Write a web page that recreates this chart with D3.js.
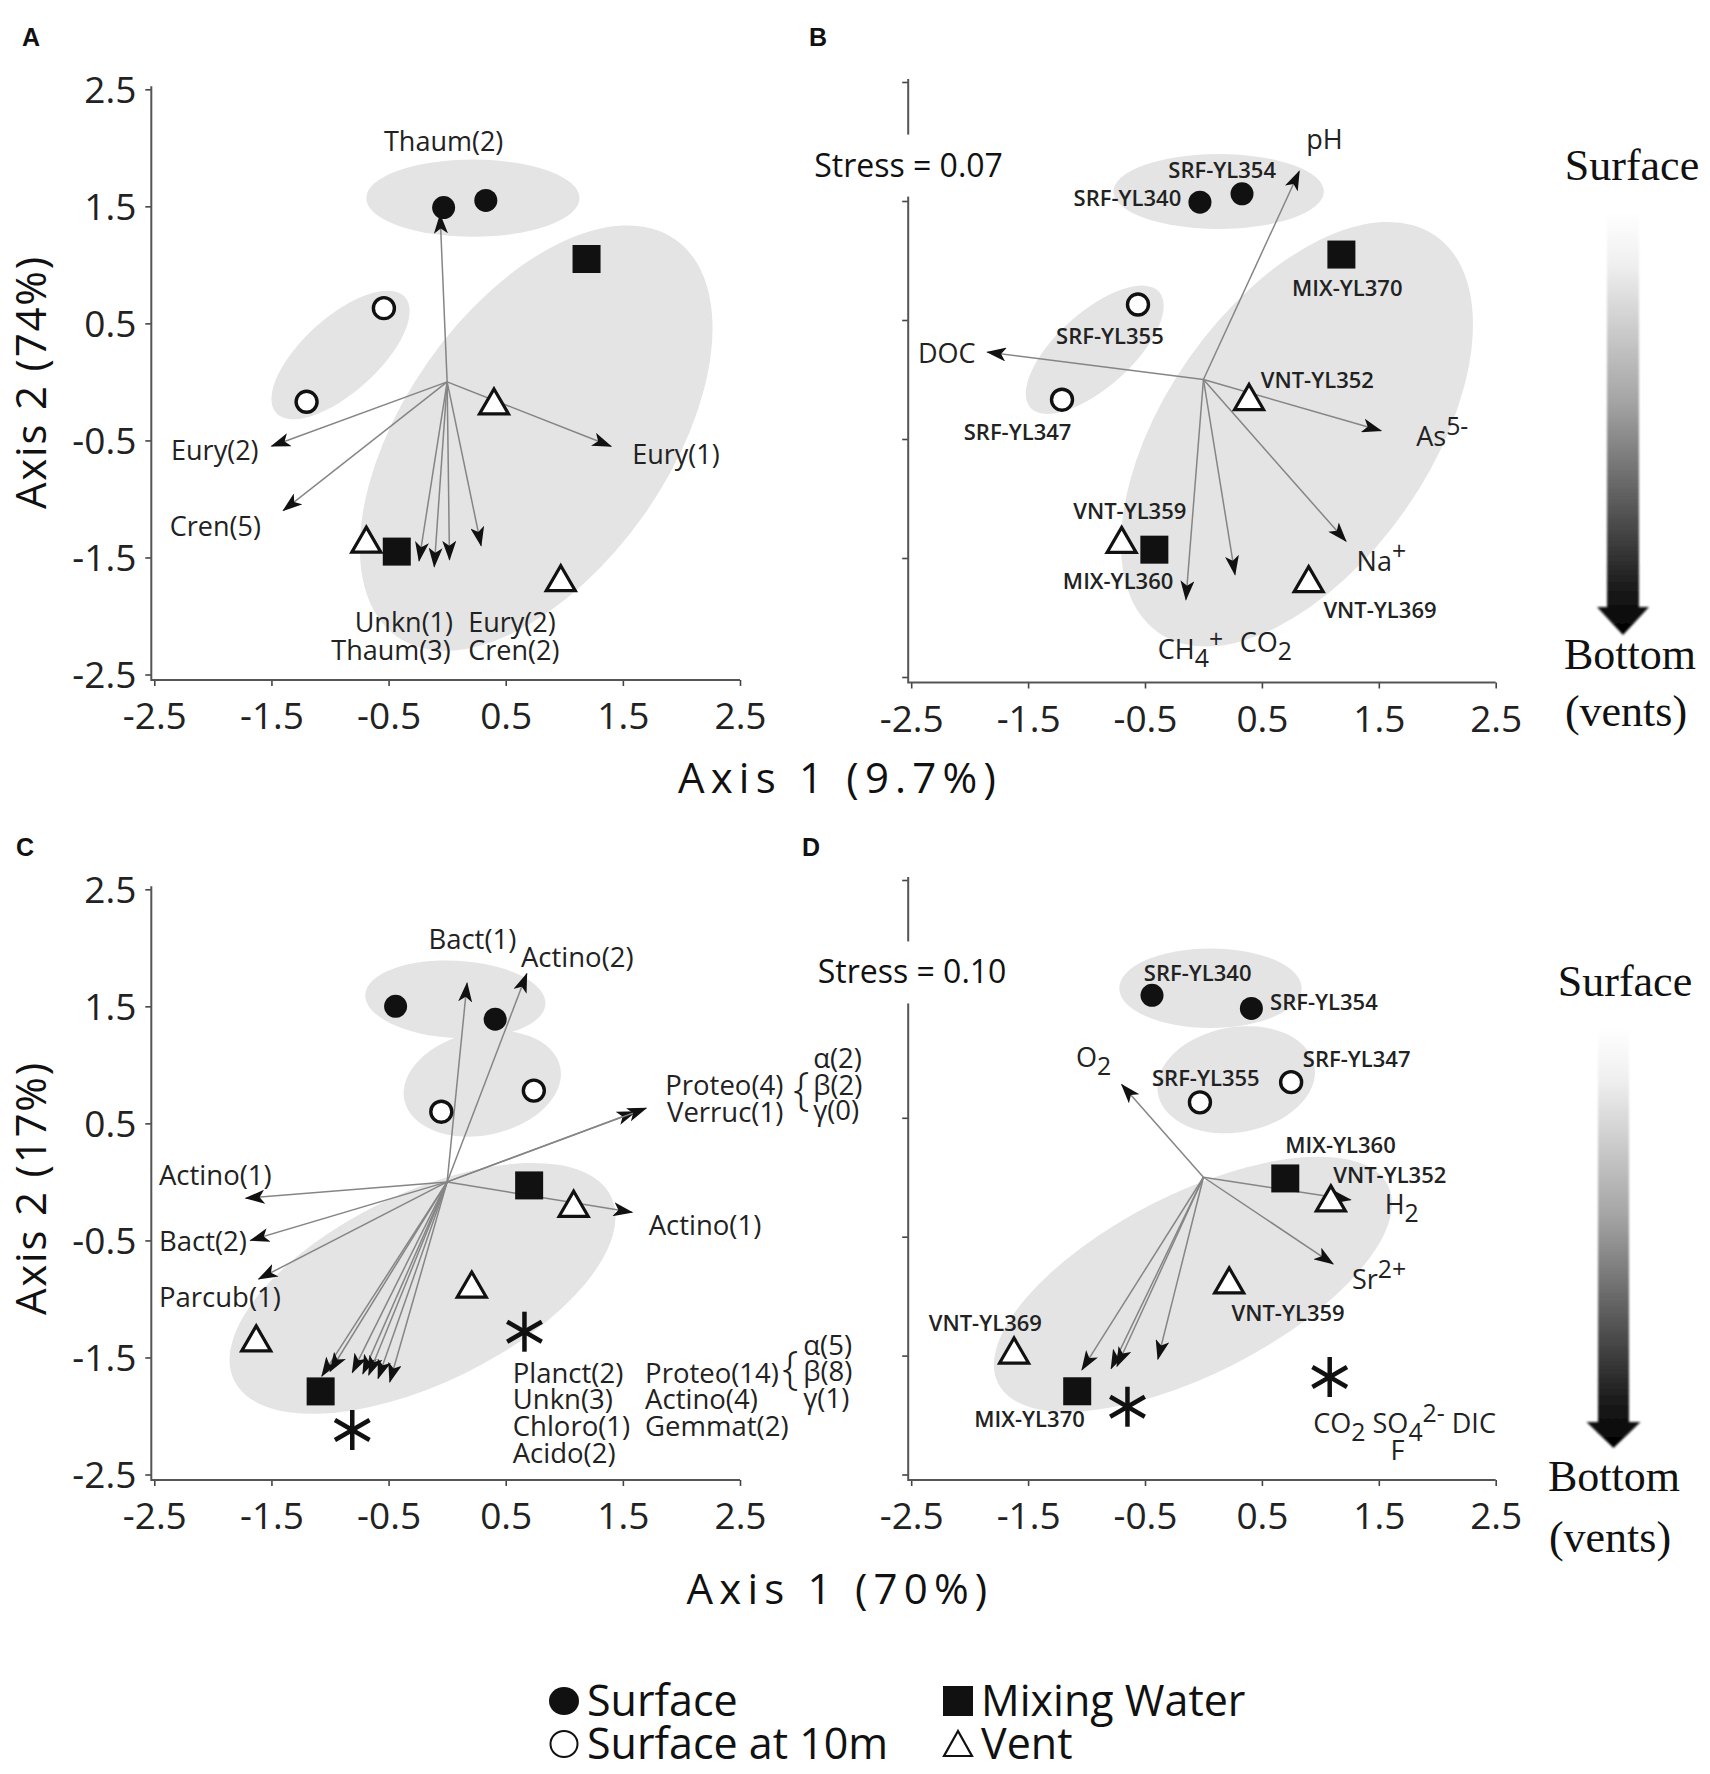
<!DOCTYPE html>
<html>
<head>
<meta charset="utf-8">
<script src="https://cdn.jsdelivr.net/npm/d3@7"></script>
<style>
  body { margin: 0; background: #fff; }
  text { font-family: "Open Sans", "Noto Sans", sans-serif; }
</style>
</head>
<body>
<svg id="fig"></svg>
<script>
// ---- data (NMDS axis units) ----
const ticks = [-2.5, -1.5, -0.5, 0.5, 1.5, 2.5];

// site scores: [kind, axis1, axis2]
const sitesA = [
  ["surface", -0.03, 1.49], ["surface", 0.33, 1.55], ["mix", 1.19, 1.05],
  ["surface10", -0.54, 0.63], ["surface10", -1.20, -0.17], ["vent", 0.40, -0.18],
  ["vent", -0.69, -1.36], ["mix", -0.43, -1.45], ["vent", 0.97, -1.69]
];
const sitesB = [
  ["surface", -0.03, 1.49], ["surface", 0.33, 1.56], ["mix", 1.18, 1.05],
  ["surface10", -0.56, 0.63], ["surface10", -1.21, -0.17], ["vent", 0.39, -0.16],
  ["vent", -0.70, -1.36], ["mix", -0.42, -1.43], ["vent", 0.90, -1.69]
];
const sitesC = [
  ["surface", -0.44, 1.50], ["surface", 0.41, 1.39], ["surface10", -0.05, 0.60],
  ["surface10", 0.74, 0.78], ["mix", 0.70, -0.03], ["vent", 1.08, -0.20],
  ["vent", 0.21, -0.89], ["vent", -1.63, -1.35], ["mix", -1.08, -1.79],
  ["star", 0.66, -1.28], ["star", -0.81, -2.12]
];
const sitesD = [
  ["surface", -0.44, 1.53], ["surface", 0.41, 1.42], ["surface10", -0.03, 0.63],
  ["surface10", 0.75, 0.80], ["mix", 0.70, -0.01], ["vent", 1.09, -0.19],
  ["vent", 0.22, -0.88], ["vent", -1.62, -1.47], ["mix", -1.08, -1.80],
  ["star", -0.65, -1.93], ["star", 1.08, -1.68]
];

// fitted vectors (arrow tips)
const vecA = [[-0.06, 1.43], [-1.50, -0.55], [-1.40, -1.10], [1.40, -0.55],
  [-0.24, -1.53], [-0.11, -1.58], [0.02, -1.52], [0.29, -1.40]];
const vecB = [[0.82, 1.75], [-1.85, 0.23], [1.52, -0.43], [1.22, -1.36],
  [-0.15, -1.85], [0.27, -1.64]];
const vecC = [[0.17, 1.70], [0.68, 1.78], [1.61, 0.60], [1.70, 0.63],
  [-1.72, -0.14], [-1.68, -0.50], [-1.61, -0.83], [1.58, -0.26],
  [-1.07, -1.66], [-1.00, -1.62], [-0.81, -1.63], [-0.72, -1.64],
  [-0.67, -1.65], [-0.59, -1.68], [-0.49, -1.71]];
const vecD = [[-0.70, 0.78], [1.26, -0.19], [1.11, -0.73],
  [-1.04, -1.62], [-0.79, -1.61], [-0.74, -1.59], [-0.39, -1.53]];

// group hulls: [cx, cy, semi-axis a, semi-axis b, tilt deg]
const hullA = [[0.22, 1.57, 0.91, 0.33, 0], [-0.91, 0.23, 0.74, 0.32, 42], [0.76, -0.48, 2.07, 1.13, 55]];
const hullB = [[0.13, 1.58, 0.90, 0.32, 0], [-0.93, 0.25, 0.74, 0.32, 42], [0.80, -0.46, 2.07, 1.13, 55]];
const hullC = [[0.07, 1.56, 0.77, 0.33, -3], [0.30, 0.84, 0.68, 0.44, 12], [-0.21, -0.91, 1.79, 0.81, 26]];
const hullD = [[0.06, 1.59, 0.78, 0.34, 0], [0.28, 0.82, 0.68, 0.45, 10], [-0.09, -0.90, 1.87, 0.77, 27]];

// labels: [text, axis1, axis2, anchor]; _{..} subscript, ^{..} superscript
const labA = [
  ["Thaum(2)", -0.03, 1.97, "middle"], ["Eury(2)", -1.61, -0.67, "end"],
  ["Cren(5)", -1.59, -1.32, "end"], ["Eury(1)", 1.58, -0.70, "start"],
  ["Unkn(1)", 0.05, -2.14, "end"], ["Thaum(3)", 0.03, -2.38, "end"],
  ["Eury(2)", 0.18, -2.14, "start"], ["Cren(2)", 0.18, -2.38, "start"]
];
const siteLabB = [
  ["SRF-YL354", 0.16, 1.69, "middle"], ["SRF-YL340", -0.19, 1.46, "end"],
  ["MIX-YL370", 1.23, 0.70, "middle"], ["SRF-YL355", -0.80, 0.30, "middle"],
  ["VNT-YL352", 0.49, -0.07, "start"], ["SRF-YL347", -1.59, -0.51, "middle"],
  ["VNT-YL359", -0.63, -1.17, "middle"], ["MIX-YL360", -0.73, -1.76, "middle"],
  ["VNT-YL369", 1.51, -2.00, "middle"]
];
const envLabB = [
  ["pH", 0.88, 1.94, "start"], ["DOC", -1.95, 0.14, "end"],
  ["As^{5-}", 1.82, -0.56, "start"], ["Na^{+}", 1.31, -1.61, "start"],
  ["CH_{4}^{+}", -0.39, -2.35, "start"], ["CO_{2}", 0.31, -2.29, "start"]
];
const labC = [
  ["Bact(1)", -0.16, 1.99, "start"], ["Actino(2)", 0.63, 1.84, "start"],
  ["Proteo(4)", 2.87, 0.744, "end"], ["Verruc(1)", 2.87, 0.513, "end"],
  ["α(2)", 3.125, 0.974, "start"], ["β(2)", 3.125, 0.744, "start"], ["γ(0)", 3.125, 0.53, "start"],
  ["Actino(1)", -2.46, -0.03, "start"], ["Bact(2)", -2.46, -0.59, "start"],
  ["Parcub(1)", -2.46, -1.07, "start"], ["Actino(1)", 1.72, -0.45, "start"],
  ["Planct(2)", 0.56, -1.72, "start"], ["Unkn(3)", 0.56, -1.94, "start"],
  ["Chloro(1)", 0.56, -2.17, "start"], ["Acido(2)", 0.56, -2.40, "start"],
  ["Proteo(14)", 1.69, -1.72, "start"], ["Actino(4)", 1.69, -1.94, "start"],
  ["Gemmat(2)", 1.69, -2.17, "start"],
  ["α(5)", 3.04, -1.48, "start"], ["β(8)", 3.04, -1.70, "start"], ["γ(1)", 3.04, -1.93, "start"]
];
const braceC = [[2.955, 0.66], [2.86, -1.73]];
const siteLabD = [
  ["SRF-YL340", -0.51, 1.65, "start"], ["SRF-YL354", 0.57, 1.41, "start"],
  ["SRF-YL355", -0.44, 0.77, "start"], ["SRF-YL347", 0.85, 0.93, "start"],
  ["MIX-YL360", 0.70, 0.20, "start"], ["VNT-YL352", 1.11, -0.05, "start"],
  ["VNT-YL359", 0.24, -1.21, "start"], ["VNT-YL369", -2.35, -1.29, "start"],
  ["MIX-YL370", -1.96, -2.10, "start"]
];
const envLabD = [
  ["O_{2}", -1.09, 0.93, "start"], ["H_{2}", 1.55, -0.31, "start"],
  ["Sr^{2+}", 1.27, -0.94, "start"], ["CO_{2} SO_{4}^{2-} DIC", 0.94, -2.15, "start"],
  ["F", 1.66, -2.38, "middle"]
];
const stressB = ["Stress = 0.07", -3.33, 1.705];
const stressD = ["Stress = 0.10", -3.30, 1.63];

const legendItems = [
  ["surface", "Surface"], ["mix", "Mixing Water"],
  ["surface10", "Surface at 10m"], ["vent", "Vent"]
];

// ---- drawing ----
const W = 1710, H = 1774;
const svg = d3.select("#fig").attr("width", W).attr("height", H);
const defs = svg.append("defs");

defs.append("marker")
    .attr("id", "head")
    .attr("viewBox", "0 0 20 14")
    .attr("refX", 19).attr("refY", 7)
    .attr("markerWidth", 20).attr("markerHeight", 14)
    .attr("markerUnits", "userSpaceOnUse")
    .attr("orient", "auto")
  .append("path")
    .attr("d", "M0,0 L20,7 L0,14 L5,7 Z")
    .attr("fill", "#111");

const grad = defs.append("linearGradient")
    .attr("id", "depth").attr("x1", 0).attr("y1", 0).attr("x2", 0).attr("y2", 1);
[[0, "#ffffff"], [0.12, "#f0f0f0"], [0.45, "#a4a4a4"], [0.7, "#575757"], [0.88, "#1e1e1e"], [1, "#000"]]
  .forEach(([o, c]) => grad.append("stop").attr("offset", o).attr("stop-color", c));
defs.append("filter").attr("id", "soft")
  .append("feGaussianBlur").attr("stdDeviation", 1.2);

// panel frames (pixel ranges of the -2.5..2.5 domain)
const layout = {
  A: {x: [154.3, 740], y: [674.5, 89.3], letter: [22, 46], yLabels: true},
  B: {x: [911.2, 1495.7], y: [677, 82], letter: [809, 46], yLabels: false},
  C: {x: [154.3, 740], y: [1474.5, 889.3], letter: [16, 856], yLabels: true},
  D: {x: [911.2, 1495.7], y: [1474.5, 880], letter: [802, 856], yLabels: false}
};

const fmt = d => d.toFixed(1);

function rich(t, str, fs) {
  let off = 0;
  str.split(/(_\{[^}]*\}|\^\{[^}]*\})/).filter(p => p).forEach(p => {
    let target = 0, s = p;
    if (p.startsWith("_{")) { target = 0.3 * fs; s = p.slice(2, -1); }
    else if (p.startsWith("^{")) { target = -0.4 * fs; s = p.slice(2, -1); }
    t.append("tspan").attr("dy", target - off)
      .style("font-size", target ? (0.92 * fs) + "px" : null)
      .text(s);
    off = target;
  });
}

function marker(g, kind, px, py) {
  if (kind === "surface") {
    g.append("circle").attr("cx", px).attr("cy", py).attr("r", 11.5).attr("fill", "#111");
  } else if (kind === "surface10") {
    g.append("circle").attr("cx", px).attr("cy", py).attr("r", 10.5)
      .attr("fill", "#fff").attr("stroke", "#111").attr("stroke-width", 3.4);
  } else if (kind === "mix") {
    g.append("rect").attr("x", px - 14).attr("y", py - 14)
      .attr("width", 28).attr("height", 28).attr("fill", "#111");
  } else if (kind === "vent") {
    g.append("path")
      .attr("d", `M${px},${py - 14} L${px + 14.5},${py + 11} L${px - 14.5},${py + 11} Z`)
      .attr("fill", "#fff").attr("stroke", "#111")
      .attr("stroke-width", 3.2).attr("stroke-linejoin", "miter");
  } else if (kind === "star") {
    [90, 30, 150].forEach(a => {
      const r = a * Math.PI / 180, L = 20;
      g.append("line")
        .attr("x1", px - L * Math.cos(r)).attr("y1", py - L * Math.sin(r))
        .attr("x2", px + L * Math.cos(r)).attr("y2", py + L * Math.sin(r))
        .attr("stroke", "#111").attr("stroke-width", 4.5);
    });
  }
}

function panel(key, hulls, vectors, sites, labelSets) {
  const cfg = layout[key];
  const x = d3.scaleLinear().domain([-2.5, 2.5]).range(cfg.x);
  const y = d3.scaleLinear().domain([-2.5, 2.5]).range(cfg.y);
  const k = (cfg.x[1] - cfg.x[0]) / 5; // px per axis unit
  const g = svg.append("g");

  // hulls
  g.selectAll("ellipse").data(hulls).join("ellipse")
    .attr("cx", d => x(d[0])).attr("cy", d => y(d[1]))
    .attr("rx", d => d[2] * k).attr("ry", d => d[3] * k)
    .attr("transform", d => `rotate(${-d[4]},${x(d[0])},${y(d[1])})`)
    .attr("fill", "#e4e4e4");

  // axes
  const left = x(-2.5) - 3, bottom = y(-2.5) + 5.5;
  const xa = g.append("g").attr("transform", `translate(0,${bottom})`)
    .call(d3.axisBottom(x).tickValues(ticks).tickSize(6).tickFormat(fmt));
  xa.select(".domain").remove();
  xa.selectAll("line").attr("stroke", "#444").attr("stroke-width", 1.6);
  xa.selectAll("text").attr("y", 49).attr("dy", null)
    .style("font-size", "37px").style("font-family", "'Open Sans', sans-serif").attr("fill", "#222");

  const ya = g.append("g").attr("transform", `translate(${left},0)`)
    .call(d3.axisLeft(y).tickValues(ticks).tickSize(6).tickFormat(cfg.yLabels ? fmt : ""));
  ya.select(".domain").remove();
  ya.selectAll("line").attr("stroke", "#444").attr("stroke-width", 1.6);
  ya.selectAll("text").attr("x", -15).attr("dy", "0.36em")
    .style("font-size", "37px").style("font-family", "'Open Sans', sans-serif").attr("fill", "#222");

  g.append("path")
    .attr("d", `M${left},${y(2.5) - 3}V${bottom}H${x(2.5)}`)
    .attr("fill", "none").attr("stroke", "#555").attr("stroke-width", 2);

  // vectors
  g.selectAll("line.vec").data(vectors).join("line").attr("class", "vec")
    .attr("x1", x(0)).attr("y1", y(0))
    .attr("x2", d => x(d[0])).attr("y2", d => y(d[1]))
    .attr("stroke", "#858585").attr("stroke-width", 1.5)
    .attr("marker-end", "url(#head)");

  // sites
  sites.forEach(d => marker(g, d[0], x(d[1]), y(d[2])));

  // labels
  labelSets.forEach(([arr, fs, wt]) => {
    arr.forEach(d => {
      const t = g.append("text")
        .attr("x", x(d[1])).attr("y", y(d[2]))
        .attr("text-anchor", d[3])
        .style("font-size", fs + "px").style("font-weight", wt || 400)
        .attr("fill", "#222");
      rich(t, d[0], fs);
    });
  });

  g.append("text").attr("x", cfg.letter[0]).attr("y", cfg.letter[1])
    .style("font-family", "'Liberation Sans', Arial, sans-serif")
    .style("font-weight", "bold").style("font-size", "25px")
    .attr("fill", "#111").text(key);

  return {g, x, y};
}

function stress(p, s) {
  const t = p.g.append("text").attr("x", p.x(s[1])).attr("y", p.y(s[2]))
    .style("font-size", "32px").attr("fill", "#111").text(s[0]);
  const b = t.node().getBBox();
  p.g.insert("rect", () => t.node())
    .attr("x", b.x - 4).attr("y", b.y - 8).attr("width", b.width + 8).attr("height", b.height + 19)
    .attr("fill", "#fff");
}

function depthArrow(cx, top, barEnd, tip, bw, hw, labels) {
  svg.append("path")
    .attr("d", `M${cx - bw / 2},${top} H${cx + bw / 2} V${barEnd} H${cx + hw / 2} L${cx},${tip} L${cx - hw / 2},${barEnd} H${cx - bw / 2} Z`)
    .attr("fill", "url(#depth)").attr("filter", "url(#soft)");
  labels.forEach(([txt, lx, ly]) => {
    svg.append("text").attr("x", lx).attr("y", ly).attr("text-anchor", "middle")
      .style("font-family", "'Liberation Serif', 'Times New Roman', serif")
      .style("font-size", "44px").attr("fill", "#111").text(txt);
  });
}

const pA = panel("A", hullA, vecA, sitesA, [[labA, 27]]);
const pB = panel("B", hullB, vecB, sitesB, [[siteLabB, 22, 600], [envLabB, 27]]);
const pC = panel("C", hullC, vecC, sitesC, [[labC, 27.5]]);
const pD = panel("D", hullD, vecD, sitesD, [[siteLabD, 22, 600], [envLabD, 27]]);
stress(pB, stressB);
stress(pD, stressD);

braceC.forEach(d => {
  pC.g.append("text").attr("x", pC.x(d[0])).attr("y", pC.y(d[1]))
    .style("font-size", "46px").style("font-weight", 300).attr("fill", "#222").text("{");
});

// axis titles
const titleStyle = s => s.style("font-size", "42px").attr("fill", "#111");
[["Axis 2 (74%)", 382], ["Axis 2 (17%)", 1188]].forEach(([t, cy]) => {
  svg.append("text").attr("transform", `translate(46,${cy}) rotate(-90)`)
    .attr("text-anchor", "middle").style("letter-spacing", "1.8px")
    .call(titleStyle).text(t);
});
[["Axis 1 (9.7%)", 793], ["Axis 1 (70%)", 1604]].forEach(([t, by]) => {
  svg.append("text").attr("x", 840).attr("y", by)
    .attr("text-anchor", "middle").style("letter-spacing", "6.2px")
    .call(titleStyle).text(t);
});

// depth arrows
depthArrow(1623, 212, 607, 635, 32, 52, [["Surface", 1632, 180], ["Bottom", 1630, 669], ["(vents)", 1626, 726]]);
depthArrow(1613.5, 1027, 1422, 1448, 31, 54, [["Surface", 1625, 996], ["Bottom", 1614, 1491], ["(vents)", 1610, 1552]]);

// legend
const leg = svg.append("g");
const legCol = [564, 958], legRow = [1701, 1744];
legendItems.forEach(([kind, name], i) => {
  const cx = legCol[i % 2], cy = legRow[Math.floor(i / 2)];
  if (kind === "surface") {
    leg.append("ellipse").attr("cx", cx).attr("cy", cy).attr("rx", 15).attr("ry", 14).attr("fill", "#111");
  } else if (kind === "surface10") {
    leg.append("ellipse").attr("cx", cx).attr("cy", cy).attr("rx", 13.5).attr("ry", 13)
      .attr("fill", "#fff").attr("stroke", "#111").attr("stroke-width", 2);
  } else if (kind === "mix") {
    leg.append("rect").attr("x", cx - 15).attr("y", cy - 15).attr("width", 30).attr("height", 30).attr("fill", "#111");
  } else {
    leg.append("path").attr("d", `M${cx},${cy - 13} L${cx + 14},${cy + 12} L${cx - 14},${cy + 12} Z`)
      .attr("fill", "#fff").attr("stroke", "#111").attr("stroke-width", 2.2);
  }
  leg.append("text").attr("x", cx + 23).attr("y", cy + 15)
    .style("font-size", "43px").attr("fill", "#111").text(name);
});
</script>
</body>
</html>
